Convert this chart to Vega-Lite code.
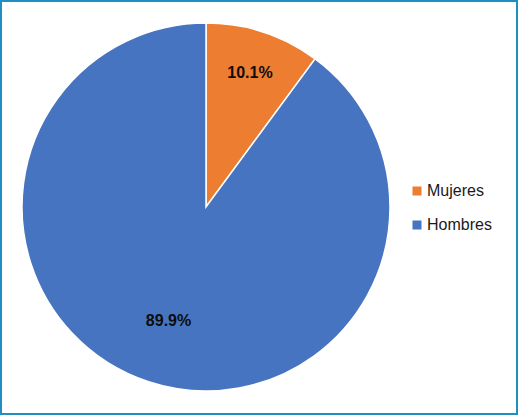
{
  "$schema": "https://vega.github.io/schema/vega-lite/v6.json",
  "width": 518,
  "height": 415,
  "autosize": {"type": "none"},
  "padding": 0,
  "background": "white",
  "config": {
    "view": {"stroke": null},
    "font": "Liberation Sans"
  },
  "data": {
    "values": [
      {"sexo": "Mujeres", "pct": 10.1, "label": "10.1%", "ord": 1},
      {"sexo": "Hombres", "pct": 89.9, "label": "89.9%", "ord": 2}
    ]
  },
  "layer": [
    {
      "data": {"values": [{"frame": 1}]},
      "mark": {"type": "rect", "fill": null, "stroke": "#1E8FC0", "strokeWidth": 2},
      "encoding": {
        "x": {"value": 1},
        "x2": {"value": 517},
        "y": {"value": 1},
        "y2": {"value": 414}
      }
    },
    {
      "mark": {"type": "arc", "x": 206, "y": 207, "outerRadius": 184, "stroke": "white", "strokeWidth": 1.5},
      "encoding": {
        "theta": {"field": "pct", "type": "quantitative", "stack": true},
        "order": {"field": "ord", "type": "quantitative"},
        "color": {
          "field": "sexo",
          "type": "nominal",
          "scale": {"domain": ["Mujeres", "Hombres"], "range": ["#ED7D31", "#4674C0"]},
          "legend": {
            "title": null,
            "orient": "none",
            "legendX": 409,
            "legendY": 183,
            "symbolType": "square",
            "symbolSize": 81,
            "symbolStrokeWidth": 0,
            "labelFontSize": 16,
            "labelColor": "#1a1a1a",
            "labelFont": "Liberation Sans",
            "labelOffset": 2,
            "rowPadding": 18
          }
        }
      }
    },
    {
      "mark": {"type": "text", "x": 206, "y": 207, "radius": 141, "fontSize": 16, "fontWeight": "bold", "color": "#0d0d0d", "font": "Liberation Sans"},
      "encoding": {
        "theta": {"field": "pct", "type": "quantitative", "stack": true},
        "order": {"field": "ord", "type": "quantitative"},
        "text": {"condition": {"test": "datum.sexo === 'Mujeres'", "field": "label"}, "value": ""}
      }
    },
    {
      "mark": {"type": "text", "x": 206, "y": 207, "radius": 120, "fontSize": 16, "fontWeight": "bold", "color": "#0d0d0d", "font": "Liberation Sans"},
      "encoding": {
        "theta": {"field": "pct", "type": "quantitative", "stack": true},
        "order": {"field": "ord", "type": "quantitative"},
        "text": {"condition": {"test": "datum.sexo === 'Hombres'", "field": "label"}, "value": ""}
      }
    }
  ]
}
